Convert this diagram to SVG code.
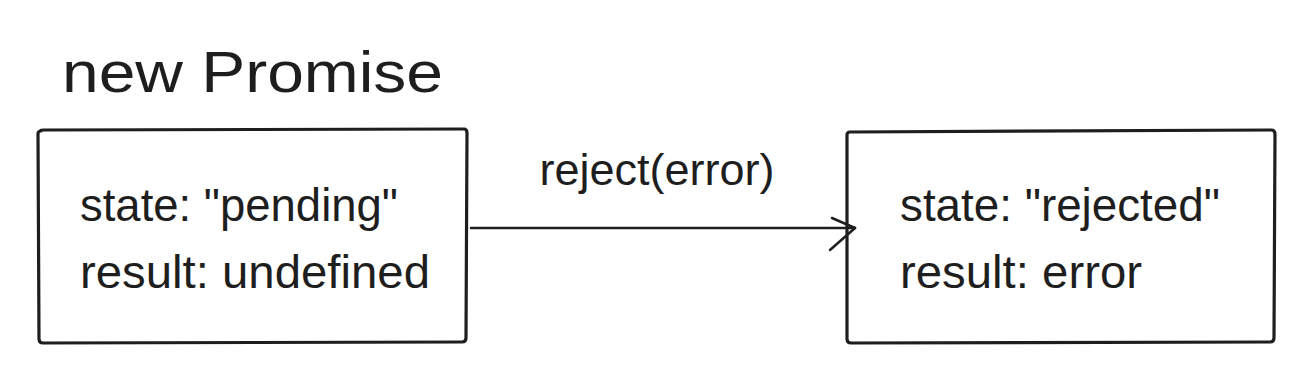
<svg xmlns="http://www.w3.org/2000/svg" width="1312" height="390" viewBox="0 0 1312 390">
<style>
.t{font-family:"Liberation Sans",Arial,sans-serif;fill:#1e1e1e}
.box{fill:none;stroke:#1e1e1e;stroke-width:3.2;stroke-linecap:round;stroke-linejoin:round}
.ln{fill:none;stroke:#1e1e1e;stroke-width:2.5;stroke-linecap:round}
</style>
<rect width="1312" height="390" fill="#ffffff"/>
<g id="title">
<text class="t" x="62" y="92" font-size="58" textLength="381" lengthAdjust="spacingAndGlyphs">new Promise</text>
</g>
<g id="node-pending">
<path class="box" d="M41 131 Q40 130 44 130 L464 129 Q467 129 467 133 L466 338 Q466 342 462 342 L43 343 Q39 343 39 339 L38 134 Q38 131 41 131 Z"/>
<text class="t" x="80" y="221" font-size="46" textLength="318" lengthAdjust="spacingAndGlyphs">state: "pending"</text>
<text class="t" x="80" y="288" font-size="47" textLength="350" lengthAdjust="spacingAndGlyphs">result: undefined</text>
</g>
<g id="node-rejected">
<path class="box" d="M850 132 L1271 130 Q1275 130 1275 134 L1274 338 Q1274 342 1270 342 L851 343 Q847 343 847 339 L847 135 Q847 132 850 132 Z"/>
<text class="t" x="900" y="221" font-size="46" textLength="320" lengthAdjust="spacingAndGlyphs">state: "rejected"</text>
<text class="t" x="900" y="288" font-size="47" textLength="242" lengthAdjust="spacingAndGlyphs">result: error</text>
</g>
<g id="connectors">
<path class="ln" d="M471 228 Q660 227.5 855 228"/>
<path class="ln" d="M832 218 L855 228" stroke-width="3"/>
<path class="ln" d="M830 250 L855 228" stroke-width="2"/>
<text class="t" x="657" y="185" font-size="45" text-anchor="middle">reject(error)</text>
</g>
</svg>
